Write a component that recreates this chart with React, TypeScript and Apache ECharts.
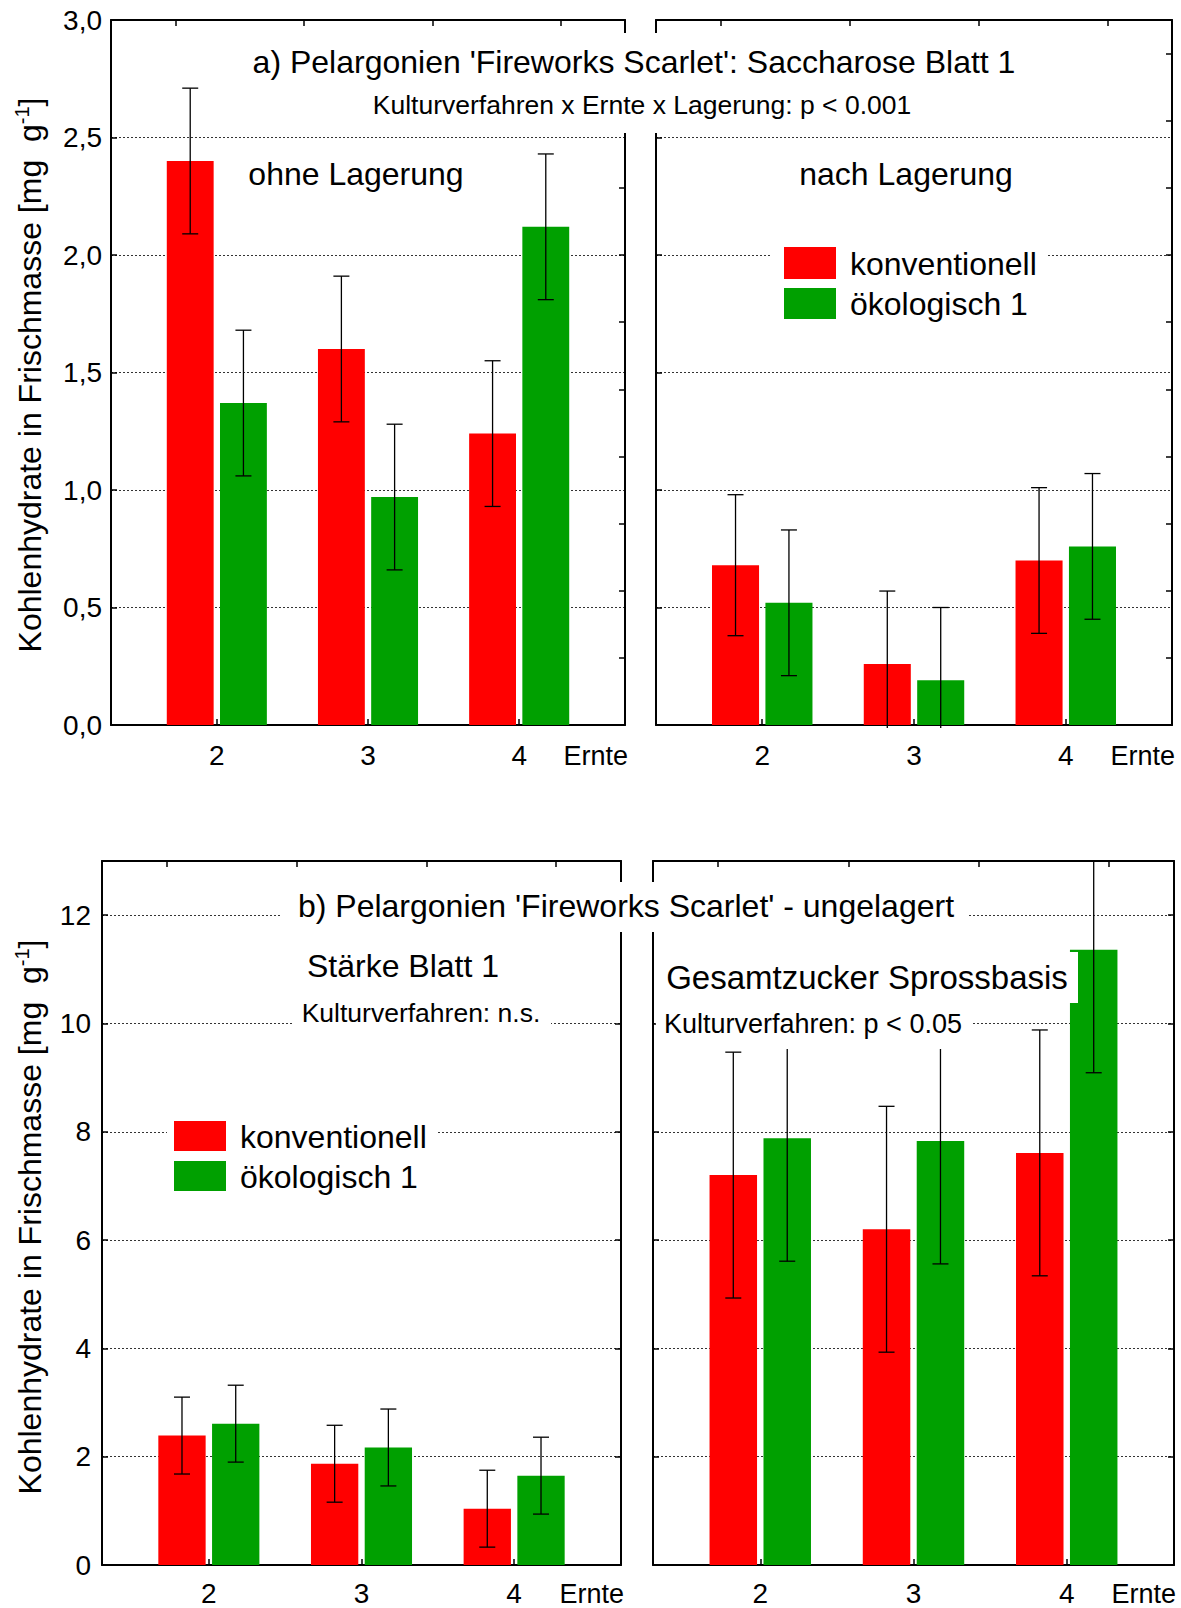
import React, { useEffect, useRef } from 'react';
import * as echarts from 'echarts';

// ---------- data ----------
const categories = [2, 3, 4];
const xTickLabels = ['2', '3', '4'];

// a) Saccharose Blatt 1 – ohne Lagerung
const sacOhneKonv = [2.4, 1.6, 1.24];
const sacOhneKonvErr = [0.31, 0.31, 0.31];
const sacOhneOeko = [1.37, 0.97, 2.12];
const sacOhneOekoErr = [0.31, 0.31, 0.31];
// a) Saccharose Blatt 1 – nach Lagerung
const sacNachKonv = [0.68, 0.26, 0.7];
const sacNachKonvErr = [0.3, 0.31, 0.31];
const sacNachOeko = [0.52, 0.19, 0.76];
const sacNachOekoErr = [0.31, 0.31, 0.31];
// b) Stärke Blatt 1
const staerkeKonv = [2.39, 1.87, 1.04];
const staerkeKonvErr = [0.71, 0.71, 0.71];
const staerkeOeko = [2.61, 2.17, 1.65];
const staerkeOekoErr = [0.71, 0.71, 0.71];
// b) Gesamtzucker Sprossbasis
const zuckerKonv = [7.2, 6.2, 7.61];
const zuckerKonvErr = [2.27, 2.27, 2.27];
const zuckerOeko = [7.88, 7.83, 11.36];
const zuckerOekoErr = [2.27, 2.27, 2.27];

// tick positions
const topAxisTicks = [0.5, 1.5, 2.5, 3.5];
const rightTicksA = [0, 0.2857, 0.5714, 0.8571, 1.1429, 1.4286, 1.7143, 2.0, 2.2857, 2.5714, 2.8571];
const rightTicksB = [0, 2, 4, 6, 8, 10, 12];

const seriesNames = ['konventionell', 'ökologisch 1'];

// ---------- style ----------
const FONT = '"Liberation Sans", Arial, Helvetica, sans-serif';
const RED = '#ff0000';
const GREEN = '#00a000';
const BAR_W = 0.31;
const BAR_OFF = 0.176;

const panels = [
  {
    grid: { left: 111, top: 20, width: 514, height: 705 },
    yMax: 3, yInterval: 0.5, showY: true, decimals: 1, yMargin: 9, xMargin: 16,
    rightTicks: rightTicksA,
    konv: sacOhneKonv, konvErr: sacOhneKonvErr, oeko: sacOhneOeko, oekoErr: sacOhneOekoErr,
  },
  {
    grid: { left: 656, top: 20, width: 516, height: 705 },
    yMax: 3, yInterval: 0.5, showY: false, decimals: 1, yMargin: 9, xMargin: 16,
    rightTicks: rightTicksA,
    konv: sacNachKonv, konvErr: sacNachKonvErr, oeko: sacNachOeko, oekoErr: sacNachOekoErr,
  },
  {
    grid: { left: 102, top: 861, width: 519, height: 704 },
    yMax: 13, yInterval: 2, showY: true, decimals: 0, yMargin: 11, xMargin: 14,
    rightTicks: rightTicksB,
    konv: staerkeKonv, konvErr: staerkeKonvErr, oeko: staerkeOeko, oekoErr: staerkeOekoErr,
  },
  {
    grid: { left: 653, top: 861, width: 521, height: 704 },
    yMax: 13, yInterval: 2, showY: false, decimals: 0, yMargin: 11, xMargin: 14,
    rightTicks: rightTicksB,
    konv: zuckerKonv, konvErr: zuckerKonvErr, oeko: zuckerOeko, oekoErr: zuckerOekoErr,
  },
];

const axisLine = { show: true, onZero: false, lineStyle: { color: '#000', width: 2 } };
const tick = (customValues?: number[]) => {
  const t: any = { show: true, inside: true, length: 6, lineStyle: { color: '#000', width: 1.5 } };
  if (customValues) t.customValues = customValues;
  return t;
};

function makeRender(offset: number, color: string, yMax: number) {
  return (params: any, api: any) => {
    const c = api.value(0);
    const v = api.value(1);
    const e = api.value(2);
    const x = c + offset;
    const p0 = api.coord([x, 0]);
    const p1 = api.coord([x, v]);
    const w = api.size([BAR_W, 0])[0];
    const hi = v + e;
    const lo = v - e;
    const hiClip = hi > yMax;
    const loClip = lo < 0;
    const pHi = api.coord([x, hiClip ? yMax : hi]);
    const pLo = loClip ? [p0[0], p0[1] + 3] : api.coord([x, lo]);
    const capW = 8;
    const lineStyle = { stroke: '#000', lineWidth: 1.3 };
    const children: any[] = [
      { type: 'rect', shape: { x: p1[0] - w / 2, y: p1[1], width: w, height: p0[1] - p1[1] }, style: { fill: color } },
      { type: 'line', shape: { x1: pHi[0], y1: pHi[1], x2: pLo[0], y2: pLo[1] }, style: lineStyle },
    ];
    if (!hiClip) children.push({ type: 'line', shape: { x1: pHi[0] - capW, y1: pHi[1], x2: pHi[0] + capW, y2: pHi[1] }, style: lineStyle });
    if (!loClip) children.push({ type: 'line', shape: { x1: pLo[0] - capW, y1: pLo[1], x2: pLo[0] + capW, y2: pLo[1] }, style: lineStyle });
    return { type: 'group', children };
  };
}

function buildOption() {
  const grid: any[] = [];
  const xAxis: any[] = [];
  const yAxis: any[] = [];
  const series: any[] = [];

  panels.forEach((p, i) => {
    grid.push({ ...p.grid, containLabel: false });
    xAxis.push({
      type: 'value', gridIndex: i, position: 'bottom', min: 1.3, max: 4.7,
      axisLine, axisTick: tick(categories),
      axisLabel: {
        customValues: categories,
        formatter: (val: number) => xTickLabels[categories.indexOf(Math.round(val))] ?? '',
        fontSize: 28, fontFamily: FONT, color: '#000', margin: p.xMargin,
      },
      splitLine: { show: false },
    });
    xAxis.push({
      type: 'value', gridIndex: i, position: 'top', min: 0, max: 4,
      axisLine, axisTick: tick(topAxisTicks), axisLabel: { show: false }, splitLine: { show: false },
    });
    yAxis.push({
      type: 'value', gridIndex: i, position: 'left', min: 0, max: p.yMax, interval: p.yInterval,
      axisLine, axisTick: tick(),
      axisLabel: {
        show: p.showY, showMaxLabel: p.yMax === 3,
        formatter: (val: number) => val.toFixed(p.decimals).replace('.', ','),
        fontSize: 28, fontFamily: FONT, color: '#000', margin: p.yMargin,
      },
      splitLine: { show: true, lineStyle: { color: '#333', width: 1, type: [2, 2] } },
    });
    yAxis.push({
      type: 'value', gridIndex: i, position: 'right', min: 0, max: p.yMax, interval: p.yInterval,
      axisLine, axisTick: tick(p.rightTicks), axisLabel: { show: false }, splitLine: { show: false },
    });
    const groups = [
      { name: seriesNames[0], vals: p.konv, errs: p.konvErr, off: -BAR_OFF, color: RED },
      { name: seriesNames[1], vals: p.oeko, errs: p.oekoErr, off: BAR_OFF, color: GREEN },
    ];
    groups.forEach((g) => {
      series.push({
        type: 'custom', name: g.name, xAxisIndex: 2 * i, yAxisIndex: 2 * i,
        itemStyle: { color: g.color }, silent: true,
        data: categories.map((c, j) => [c, g.vals[j], g.errs[j]]),
        renderItem: makeRender(g.off, g.color, p.yMax),
      });
    });
  });

  const txt = (text: string, x: number, y: number, size: number, align = 'center') => ({
    type: 'text', x, y, z: 11, silent: true,
    style: { text, fontSize: size, fontFamily: FONT, fill: '#000', align, verticalAlign: 'middle' },
  });
  const box = (x1: number, y1: number, x2: number, y2: number, fill = '#fff') => ({
    type: 'rect', z: 10, silent: true, shape: { x: x1, y: y1, width: x2 - x1, height: y2 - y1 }, style: { fill },
  });
  const yTitle = (x: number, y: number) => ({
    type: 'text', x, y, rotation: Math.PI / 2, z: 11, silent: true,
    style: {
      text: '{a|Kohlenhydrate in Frischmasse [mg  g}{s|-1}{a|]}',
      fill: '#000', fontFamily: FONT, align: 'center', verticalAlign: 'middle',
      rich: {
        a: { fontSize: 32, fontFamily: FONT, fill: '#000', lineHeight: 36 },
        s: { fontSize: 20, fontFamily: FONT, fill: '#000', lineHeight: 20, verticalAlign: 'top' },
      },
    },
  });

  const graphic: any[] = [
    // white label boxes
    box(236, 33, 1030, 133),
    box(771, 240, 1046, 326),
    box(282, 882, 969, 932),
    box(294, 998, 551, 1032),
    box(167, 1110, 436, 1200),
    box(660, 952, 1078, 1003),
    box(656, 1003, 972, 1049),
    // texts
    txt("a) Pelargonien 'Fireworks Scarlet': Saccharose Blatt 1", 634, 62, 32),
    txt('Kulturverfahren x Ernte x Lagerung: p < 0.001', 642, 105, 26.5),
    txt('ohne Lagerung', 356, 174, 32),
    txt('nach Lagerung', 906, 174, 32),
    txt("b) Pelargonien 'Fireworks Scarlet' - ungelagert", 626, 906, 32),
    txt('Stärke Blatt 1', 403, 966, 32),
    txt('Kulturverfahren: n.s.', 421, 1013, 26.5),
    txt('Gesamtzucker Sprossbasis', 867, 977, 33),
    txt('Kulturverfahren: p < 0.05', 664, 1024, 27, 'left'),
    // Ernte labels
    txt('Ernte', 628, 756, 27, 'right'),
    txt('Ernte', 1175, 756, 27, 'right'),
    txt('Ernte', 624, 1594, 27, 'right'),
    txt('Ernte', 1176, 1594, 27, 'right'),
    // legends
    box(784, 247, 836, 279, RED),
    box(784, 288, 836, 319, GREEN),
    txt(seriesNames[0], 850, 264, 32, 'left'),
    txt(seriesNames[1], 850, 304, 32, 'left'),
    box(174, 1121, 226, 1151, RED),
    box(174, 1161, 226, 1191, GREEN),
    txt(seriesNames[0], 240, 1137, 32, 'left'),
    txt(seriesNames[1], 240, 1177, 32, 'left'),
    // y titles
    yTitle(30, 375),
    yTitle(30, 1217),
  ];
  graphic.forEach((g) => { if (g.type === 'rect' && g.style.fill !== '#fff') g.z = 11; });

  return {
    animation: false,
    backgroundColor: '#fff',
    textStyle: { fontFamily: FONT },
    grid, xAxis, yAxis, series, graphic,
  };
}

export default function App() {
  const ref = useRef<HTMLDivElement>(null);
  useEffect(() => {
    document.body.style.margin = '0';
    if (!ref.current) return;
    const chart = echarts.init(ref.current, undefined, { renderer: 'svg' });
    chart.setOption(buildOption() as any);
    return () => chart.dispose();
  }, []);
  return <div ref={ref} style={{ width: 1181, height: 1608, background: '#fff' }} />;
}
